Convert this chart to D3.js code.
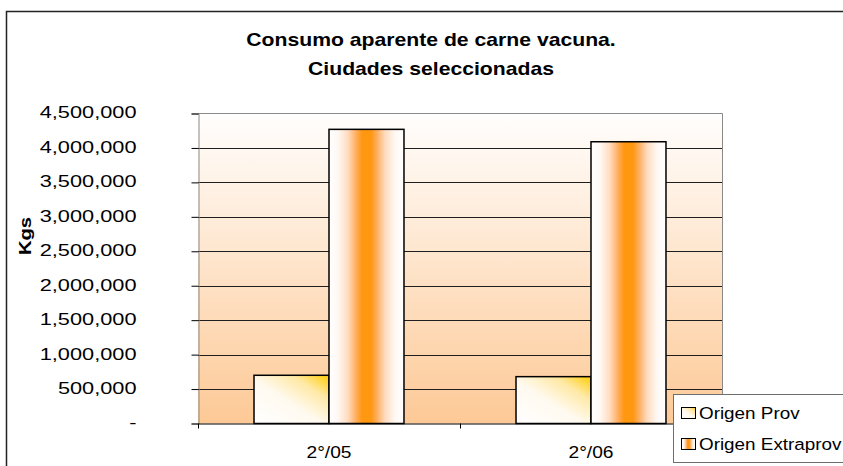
<!DOCTYPE html>
<html>
<head>
<meta charset="utf-8">
<script src="https://cdn.jsdelivr.net/npm/d3@7"></script>
<style>
  body { margin: 0; background: #fff; }
  svg { display: block; }
  text { font-family: "Liberation Sans", Arial, sans-serif; fill: #000; }
</style>
</head>
<body>
<div id="chart"></div>
<script>
const categories = ['2°/05', '2°/06'];
const seriesNames = ['Origen Prov', 'Origen Extraprov'];
const origenProv = [700000, 680000];
const origenExtraprov = [4270000, 4090000];
const yTicks = [0, 500000, 1000000, 1500000, 2000000, 2500000, 3000000, 3500000, 4000000, 4500000];
const titleLines = ['Consumo aparente de carne vacuna.', 'Ciudades seleccionadas'];

const width = 843;
const height = 466;
const plot = { left: 198, right: 722, top: 113.5, bottom: 423.5 };

const values = [origenProv, origenExtraprov];
const gradIds = ['gradProv', 'gradExtra'];

// stretch text horizontally (the original rendering is wider than Arial)
function stretch(sel, sx) {
  sel.each(function() {
    const t = d3.select(this);
    const x = +t.attr('x') || 0;
    t.attr('transform', 'translate(' + x + ',0) scale(' + sx + ',1)').attr('x', 0);
  });
}

const svg = d3.select('#chart')
  .append('svg')
  .attr('width', width)
  .attr('height', height);

const defs = svg.append('defs');

const bg = defs.append('linearGradient')
  .attr('id', 'gradBg')
  .attr('x1', 0).attr('y1', 0).attr('x2', 0).attr('y2', 1);
bg.append('stop').attr('offset', 0).attr('stop-color', '#fffefd');
bg.append('stop').attr('offset', 1).attr('stop-color', '#fdc996');

const gp = defs.append('linearGradient')
  .attr('id', 'gradProv')
  .attr('x1', 0).attr('y1', 1).attr('x2', 1).attr('y2', 0);
[[0, '#ffffff'], [0.45, '#fffaf0'], [0.75, '#ffe9a6'], [1, '#ffcc00']].forEach(function(s) {
  gp.append('stop').attr('offset', s[0]).attr('stop-color', s[1]);
});

const ge = defs.append('linearGradient')
  .attr('id', 'gradExtra')
  .attr('x1', 0).attr('y1', 0).attr('x2', 1).attr('y2', 0);
[[0, '#ffffff'], [0.12, '#fff8f3'], [0.25, '#ffdcc0'], [0.36, '#ffae60'], [0.44, '#ff9710'],
 [0.56, '#ff9710'], [0.64, '#ffae60'], [0.75, '#ffdcc0'], [0.88, '#fff8f3'], [1, '#ffffff']].forEach(function(s) {
  ge.append('stop').attr('offset', s[0]).attr('stop-color', s[1]);
});

// outer chart frame (runs off the page on the right and bottom)
svg.append('rect')
  .attr('x', 6.5).attr('y', 11.5)
  .attr('width', 900).attr('height', 500)
  .attr('fill', '#fff')
  .attr('stroke', '#222')
  .attr('stroke-width', 1.5);

// title
svg.selectAll('.title')
  .data(titleLines)
  .enter().append('text')
  .attr('class', 'title')
  .attr('x', 431)
  .attr('y', function(d, i) { return 46.5 + i * 28.5; })
  .attr('text-anchor', 'middle')
  .style('font-size', '18.5px')
  .style('font-weight', 'bold')
  .text(function(d) { return d; })
  .call(stretch, 1.145);

const x0 = d3.scaleBand().domain(categories).range([plot.left, plot.right]).paddingInner(0).paddingOuter(0);
const x1 = d3.scaleBand().domain(seriesNames).range([0, x0.bandwidth()]).paddingInner(0).paddingOuter(0.747);
const y = d3.scaleLinear().domain([0, 4500000]).range([plot.bottom, plot.top]);

// plot background
svg.append('rect')
  .attr('x', plot.left).attr('y', plot.top)
  .attr('width', plot.right - plot.left).attr('height', plot.bottom - plot.top)
  .attr('fill', 'url(#gradBg)');

// grid lines
svg.append('g')
  .selectAll('line')
  .data(yTicks.filter(function(d) { return d > 0 && d < 4500000; }))
  .enter().append('line')
  .attr('x1', plot.left).attr('x2', plot.right)
  .attr('y1', function(d) { return Math.round(y(d)) + 0.5; })
  .attr('y2', function(d) { return Math.round(y(d)) + 0.5; })
  .attr('stroke', '#1e1e1e')
  .attr('stroke-width', 1);

// top and right border of the plot
svg.append('path')
  .attr('d', 'M' + plot.left + ',' + plot.top + 'H' + (plot.right + 0.5) + 'V' + plot.bottom)
  .attr('fill', 'none')
  .attr('stroke', '#8a8a8a')
  .attr('stroke-width', 1);

// bars
const groups = svg.append('g')
  .selectAll('g')
  .data(categories)
  .enter().append('g')
  .attr('transform', function(d) { return 'translate(' + x0(d) + ',0)'; });

groups.selectAll('rect')
  .data(function(d, ci) {
    return seriesNames.map(function(s, si) { return { s: s, si: si, v: values[si][ci] }; });
  })
  .enter().append('rect')
  .attr('x', function(d) { return x1(d.s); })
  .attr('y', function(d) { return y(d.v); })
  .attr('width', x1.bandwidth())
  .attr('height', function(d) { return plot.bottom - y(d.v); })
  .attr('fill', function(d) { return 'url(#' + gradIds[d.si] + ')'; })
  .attr('stroke', '#000')
  .attr('stroke-width', 1.5);

// y axis
const yAxis = svg.append('g')
  .attr('transform', 'translate(' + (plot.left + 0.5) + ',0)')
  .call(d3.axisLeft(y)
    .tickValues(yTicks)
    .tickSize(7)
    .tickPadding(55)
    .tickFormat(function(d) { return d === 0 ? '-' : d3.format(',')(d); }));
yAxis.select('.domain').attr('stroke', '#8a8a8a');
yAxis.selectAll('.tick line').attr('stroke', '#000');
yAxis.selectAll('text')
  .style('font-size', '17px')
  .attr('font-family', null)
  .attr('dy', '0.26em')
  .call(stretch, 1.28);

// x axis
const xAxis = svg.append('g')
  .attr('transform', 'translate(0,' + plot.bottom + ')')
  .call(d3.axisBottom(x0).tickSize(0).tickPadding(22));
xAxis.select('.domain').attr('stroke', '#000').attr('stroke-width', 1.2);
xAxis.selectAll('text')
  .style('font-size', '17px')
  .attr('font-family', null)
  .call(stretch, 1.13);

// category separator ticks
svg.append('g')
  .selectAll('line')
  .data(categories.map(function(c) { return x0(c); }).concat([plot.right]))
  .enter().append('line')
  .attr('x1', function(d) { return d + 0.5; }).attr('x2', function(d) { return d + 0.5; })
  .attr('y1', plot.bottom).attr('y2', plot.bottom + 5)
  .attr('stroke', '#000');

// y axis title
svg.append('text')
  .attr('transform', 'translate(30.5,236) rotate(-90) scale(1.19,1)')
  .attr('text-anchor', 'middle')
  .style('font-size', '17px')
  .style('font-weight', 'bold')
  .text('Kgs');

// legend
const legend = svg.append('g');
legend.append('rect')
  .attr('x', 673.5).attr('y', 394.5)
  .attr('width', 200).attr('height', 68)
  .attr('fill', '#fff')
  .attr('stroke', '#6e6e6e')
  .attr('stroke-width', 1);

const items = legend.selectAll('.item')
  .data(seriesNames)
  .enter().append('g')
  .attr('class', 'item')
  .attr('transform', function(d, i) { return 'translate(0,' + (418.5 + i * 31) + ')'; });
items.append('rect')
  .attr('x', 681.5).attr('y', -11)
  .attr('width', 14).attr('height', 11)
  .attr('fill', function(d, i) { return 'url(#' + gradIds[i] + ')'; })
  .attr('stroke', '#000')
  .attr('stroke-width', 1);
items.append('text')
  .attr('x', 699)
  .attr('y', 0)
  .style('font-size', '17px')
  .text(function(d) { return d; })
  .call(stretch, 1.11);
</script>
</body>
</html>
